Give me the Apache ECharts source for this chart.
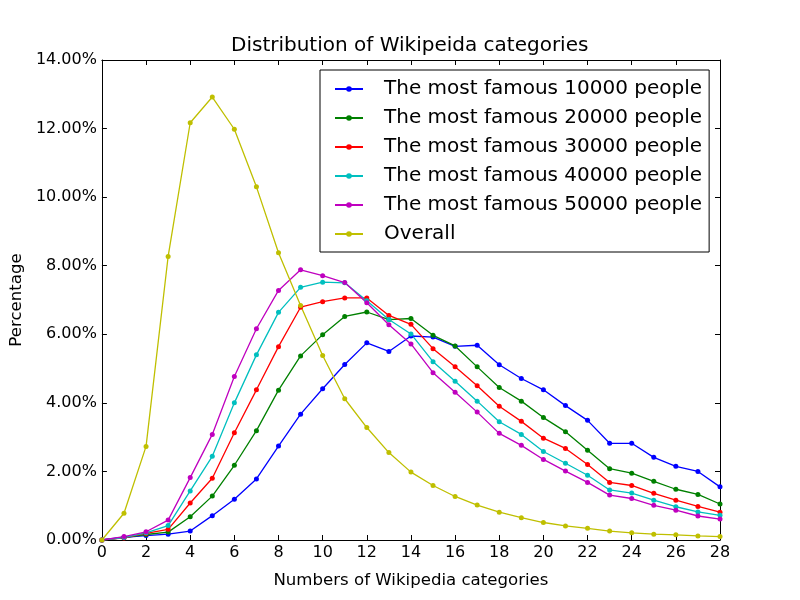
<!DOCTYPE html>
<html>
<head>
<meta charset="utf-8">
<script src="https://cdn.jsdelivr.net/npm/echarts@6/dist/echarts.min.js"></script>
<style>
  html, body { margin: 0; padding: 0; background: #fff; }
  #chart { width: 800px; height: 600px; }
</style>
</head>
<body>
<div id="chart"></div>
<script>
// number of categories on the x axis
const categoryCounts = [0, 1, 2, 3, 4, 5, 6, 7, 8, 9, 10, 11, 12, 13, 14, 15, 16, 17, 18, 19, 20, 21, 22, 23, 24, 25, 26, 27, 28]

// percentages
const top10000 = [0, 0.08, 0.13, 0.17, 0.26, 0.71, 1.19, 1.78, 2.74, 3.67, 4.41, 5.12, 5.75, 5.50, 5.95, 5.92, 5.65, 5.68, 5.11, 4.71, 4.38, 3.92, 3.49, 2.82, 2.82, 2.41, 2.15, 2.00, 1.55]
const top20000 = [0, 0.07, 0.16, 0.23, 0.68, 1.28, 2.18, 3.19, 4.37, 5.37, 5.99, 6.52, 6.65, 6.43, 6.46, 5.97, 5.66, 5.05, 4.45, 4.05, 3.57, 3.16, 2.62, 2.08, 1.95, 1.71, 1.48, 1.33, 1.05]
const top30000 = [0, 0.06, 0.19, 0.31, 1.08, 1.80, 3.13, 4.38, 5.64, 6.79, 6.95, 7.06, 7.06, 6.55, 6.29, 5.58, 5.05, 4.50, 3.90, 3.46, 2.97, 2.67, 2.20, 1.68, 1.59, 1.36, 1.16, 0.98, 0.81]
const top40000 = [0, 0.07, 0.21, 0.42, 1.43, 2.44, 4.00, 5.40, 6.64, 7.37, 7.52, 7.50, 6.98, 6.43, 6.01, 5.20, 4.63, 4.05, 3.45, 3.08, 2.58, 2.24, 1.89, 1.46, 1.37, 1.16, 0.97, 0.82, 0.72]
const top50000 = [0, 0.10, 0.24, 0.58, 1.82, 3.08, 4.77, 6.16, 7.28, 7.88, 7.71, 7.51, 6.92, 6.28, 5.72, 4.88, 4.31, 3.73, 3.11, 2.76, 2.35, 2.01, 1.68, 1.31, 1.21, 1.01, 0.87, 0.70, 0.61]
const overall = [0, 0.78, 2.73, 8.27, 12.17, 12.92, 11.98, 10.30, 8.38, 6.84, 5.38, 4.12, 3.28, 2.55, 1.98, 1.59, 1.27, 1.02, 0.81, 0.65, 0.51, 0.41, 0.34, 0.26, 0.21, 0.17, 0.15, 0.12, 0.10]

const seriesNames = [
  'The most famous 10000 people',
  'The most famous 20000 people',
  'The most famous 30000 people',
  'The most famous 40000 people',
  'The most famous 50000 people',
  'Overall'
]
const seriesColors = ['#0000ff', '#008000', '#ff0000', '#00bfbf', '#bf00bf', '#bfbf00']

const font = 'DejaVu Sans'

function pairs (values) {
  return values.map(function (v, i) { return [categoryCounts[i], v] })
}

const allValues = [top10000, top20000, top30000, top40000, top50000, overall]
const series = allValues.map(function (values, i) {
  return {
    name: seriesNames[i],
    type: 'line',
    data: pairs(values),
    symbol: 'circle',
    symbolSize: 5,
    color: seriesColors[i],
    lineStyle: { width: 1.3, color: seriesColors[i] },
    itemStyle: { color: seriesColors[i] }
  }
})

// frame axes: ticks inside, on all four sides
const tickStyle = { inside: true, length: 5, lineStyle: { color: '#000', width: 1 } }
const lineStyle = { show: true, onZero: false, lineStyle: { color: '#000', width: 1 } }

const chart = echarts.init(document.getElementById('chart'))
const option = {
  animation: false,
  backgroundColor: '#fff',
  textStyle: { fontFamily: font },
  title: {
    text: 'Distribution of Wikipeida categories',
    left: 231,
    top: 36,
    padding: 0,
    textStyle: { fontFamily: font, fontSize: 20, fontWeight: 'normal', color: '#000' }
  },
  legend: {
    orient: 'vertical',
    left: 320,
    top: 70,
    padding: [9, 7, 8, 14],
    itemGap: 9,
    itemWidth: 28,
    itemHeight: 7,
    borderColor: '#000',
    borderWidth: 1,
    backgroundColor: '#fff',
    data: seriesNames,
    textStyle: { fontFamily: font, fontSize: 20, color: '#000', padding: [0, 0, 0, 16] }
  },
  grid: { left: 100, right: 80, top: 60, bottom: 60, containLabel: false },
  xAxis: [{
    type: 'value',
    min: 0,
    max: 28,
    interval: 2,
    name: 'Numbers of Wikipedia categories',
    nameLocation: 'middle',
    nameGap: 32,
    nameTextStyle: { fontFamily: font, fontSize: 16.6, color: '#000' },
    axisLine: lineStyle,
    axisTick: tickStyle,
    axisLabel: { margin: 5, fontFamily: font, fontSize: 16, color: '#000' },
    splitLine: { show: false }
  }, {
    type: 'value',
    position: 'top',
    min: 0,
    max: 28,
    interval: 2,
    axisLine: lineStyle,
    axisTick: tickStyle,
    axisLabel: { show: false },
    splitLine: { show: false }
  }],
  yAxis: [{
    type: 'value',
    min: 0,
    max: 14,
    interval: 2,
    name: 'Percentage',
    nameLocation: 'middle',
    nameGap: 76,
    nameTextStyle: { fontFamily: font, fontSize: 16.6, color: '#000' },
    axisLine: lineStyle,
    axisTick: tickStyle,
    axisLabel: {
      margin: 5,
      fontFamily: font,
      fontSize: 16,
      color: '#000',
      formatter: function (v) { return v.toFixed(2) + '%' }
    },
    splitLine: { show: false }
  }, {
    type: 'value',
    position: 'right',
    min: 0,
    max: 14,
    interval: 2,
    axisLine: lineStyle,
    axisTick: tickStyle,
    axisLabel: { show: false },
    splitLine: { show: false }
  }],
  series: series
}
chart.setOption(option)
</script>
</body>
</html>
